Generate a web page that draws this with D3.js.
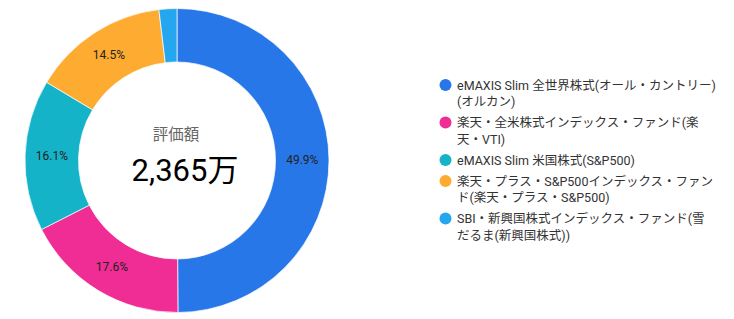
<!DOCTYPE html>
<html>
<head>
<meta charset="utf-8">
<script src="https://cdn.jsdelivr.net/npm/d3@7"></script>
<style>
  body { margin: 0; background: #fff; }
  svg { display: block; font-family: Roboto, "Noto Sans CJK JP", sans-serif; }
</style>
</head>
<body>
<div id="chart"></div>
<script>
// data: legend names, split into the lines shown in the legend
var names = [
  ["eMAXIS Slim 全世界株式(オール・カントリー)", "(オルカン)"],
  ["楽天・全米株式インデックス・ファンド(楽", "天・VTI)"],
  ["eMAXIS Slim 米国株式(S&P500)"],
  ["楽天・プラス・S&P500インデックス・ファン", "ド(楽天・プラス・S&P500)"],
  ["SBI・新興国株式インデックス・ファンド(雪", "だるま(新興国株式))"]
];
var shares = [49.9, 17.6, 16.1, 14.5, 1.9];
var colors = ["#2777e9", "#ef2d95", "#14b3c8", "#fdab31", "#25a7f0"];
var centerLabel = "評価額";
var centerValue = "2,365万";

var width = 734, height = 319;
var cx = 177, cy = 160.5, outerR = 152, innerR = 98.5;

var svg = d3.select("#chart").append("svg")
    .attr("width", width)
    .attr("height", height);

var pie = d3.pie().sort(null).value(function(d) { return d; });
var arc = d3.arc().innerRadius(innerR).outerRadius(outerR);
var labelArc = d3.arc().innerRadius((innerR + outerR) / 2).outerRadius((innerR + outerR) / 2);

var g = svg.append("g").attr("transform", "translate(" + cx + "," + cy + ")");

var arcs = pie(shares);

g.selectAll("path")
    .data(arcs)
    .enter().append("path")
    .attr("d", arc)
    .style("fill", function(d, i) { return colors[i]; })
    .style("stroke", "#fff")
    .style("stroke-width", "0.7px");

// percent labels (small slices skipped)
g.selectAll("text.pct")
    .data(arcs.filter(function(d) { return d.data >= 5; }))
    .enter().append("text")
    .attr("class", "pct")
    .attr("transform", function(d) {
        var c = labelArc.centroid(d);
        return "translate(" + c[0] + "," + c[1] + ")";
    })
    .attr("text-anchor", "middle")
    .attr("dominant-baseline", "central")
    .style("font-size", "12px")
    .style("fill", "#222")
    .text(function(d) { return d.data.toFixed(1) + "%"; });

// center text
g.append("text")
    .attr("x", -1)
    .attr("y", -26)
    .attr("text-anchor", "middle")
    .attr("dominant-baseline", "central")
    .style("font-size", "15.5px")
    .style("fill", "#666")
    .text(centerLabel);

g.append("text")
    .attr("x", 8)
    .attr("y", 10)
    .attr("text-anchor", "middle")
    .attr("dominant-baseline", "central")
    .style("font-size", "31px")
    .style("fill", "#000")
    .text(centerValue);

// legend
var legend = svg.append("g");
var lx = 445.5, tx = 457, lineH = 16.5, itemGap = 21;
var y = 85;

names.forEach(function(lines, i) {
    legend.append("circle")
        .attr("cx", lx)
        .attr("cy", y)
        .attr("r", 6)
        .style("fill", colors[i]);
    lines.forEach(function(ln, j) {
        legend.append("text")
            .attr("x", tx)
            .attr("y", y + j * lineH)
            .attr("dominant-baseline", "central")
            .style("font-size", "12.5px")
            .style("fill", "#333")
            .text(ln);
    });
    y += (lines.length - 1) * lineH + itemGap;
});
</script>
</body>
</html>
